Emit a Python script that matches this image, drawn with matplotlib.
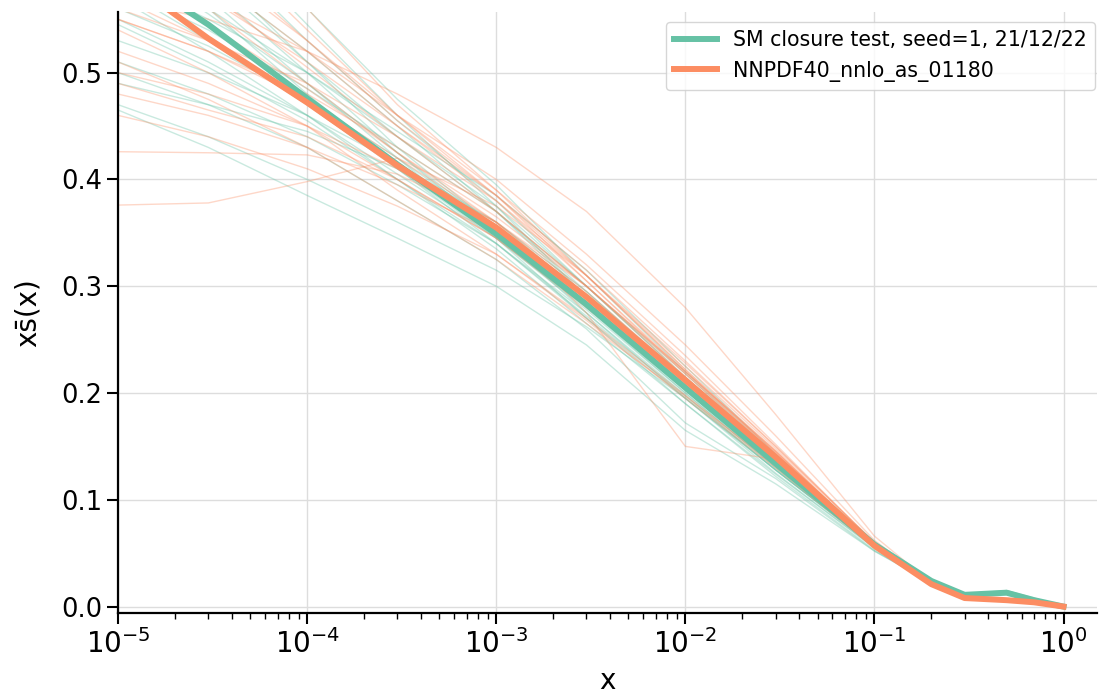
import matplotlib
matplotlib.use("Agg")
import matplotlib.pyplot as plt

x_nodes = [1e-5, 3e-5, 1e-4, 3e-4, 1e-3, 3e-3, 1e-2, 3e-2, 0.1, 0.2, 0.3, 0.5, 0.7, 1.0]

# central values
ct_central = [0.600, 0.545, 0.476, 0.414, 0.349, 0.283, 0.205, 0.134, 0.058, 0.024, 0.011, 0.013, 0.006, 0.0]
nnpdf_central = [0.593, 0.532, 0.472, 0.413, 0.355, 0.290, 0.212, 0.140, 0.057, 0.021, 0.008, 0.006, 0.004, 0.0]

# replicas, closure test fit
ct_replicas = [
    [0.66, 0.59, 0.51, 0.44, 0.37, 0.295, 0.212, 0.136, 0.057, 0.023, 0.011, 0.013, 0.006, 0.0],
    [0.55, 0.51, 0.46, 0.405, 0.345, 0.28, 0.204, 0.133, 0.058, 0.025, 0.012, 0.012, 0.006, 0.0],
    [0.47, 0.44, 0.40, 0.36, 0.315, 0.262, 0.195, 0.128, 0.056, 0.024, 0.012, 0.014, 0.007, 0.0],
    [0.465, 0.43, 0.385, 0.345, 0.30, 0.245, 0.165, 0.115, 0.052, 0.023, 0.011, 0.013, 0.006, 0.0],
    [0.70, 0.62, 0.53, 0.455, 0.38, 0.30, 0.215, 0.14, 0.06, 0.025, 0.012, 0.013, 0.006, 0.0],
    [0.58, 0.54, 0.485, 0.43, 0.37, 0.30, 0.218, 0.14, 0.059, 0.024, 0.011, 0.012, 0.006, 0.0],
    [0.62, 0.56, 0.48, 0.41, 0.34, 0.27, 0.195, 0.128, 0.057, 0.024, 0.012, 0.014, 0.007, 0.0],
    [0.53, 0.50, 0.46, 0.415, 0.36, 0.295, 0.213, 0.137, 0.058, 0.024, 0.011, 0.012, 0.006, 0.0],
    [0.64, 0.58, 0.50, 0.425, 0.35, 0.275, 0.195, 0.125, 0.055, 0.023, 0.010, 0.012, 0.006, 0.0],
    [0.51, 0.48, 0.44, 0.395, 0.34, 0.275, 0.198, 0.128, 0.056, 0.024, 0.012, 0.013, 0.006, 0.0],
    [0.75, 0.66, 0.56, 0.475, 0.395, 0.31, 0.22, 0.142, 0.061, 0.025, 0.012, 0.013, 0.006, 0.0],
    [0.59, 0.55, 0.50, 0.445, 0.385, 0.315, 0.225, 0.143, 0.06, 0.025, 0.012, 0.013, 0.007, 0.0],
    [0.57, 0.52, 0.46, 0.40, 0.335, 0.265, 0.19, 0.124, 0.055, 0.023, 0.011, 0.013, 0.006, 0.0],
    [0.61, 0.555, 0.49, 0.425, 0.355, 0.285, 0.205, 0.132, 0.057, 0.024, 0.011, 0.015, 0.007, 0.0],
    [0.56, 0.525, 0.475, 0.42, 0.355, 0.285, 0.207, 0.135, 0.059, 0.025, 0.012, 0.012, 0.006, 0.0],
    [0.68, 0.60, 0.51, 0.43, 0.355, 0.28, 0.20, 0.13, 0.056, 0.023, 0.011, 0.014, 0.007, 0.0],
    [0.49, 0.47, 0.445, 0.41, 0.36, 0.29, 0.208, 0.134, 0.058, 0.024, 0.012, 0.013, 0.006, 0.0],
    [0.63, 0.57, 0.49, 0.42, 0.345, 0.27, 0.19, 0.122, 0.053, 0.022, 0.011, 0.014, 0.007, 0.0],
    [0.60, 0.56, 0.50, 0.44, 0.375, 0.30, 0.214, 0.138, 0.059, 0.025, 0.012, 0.012, 0.006, 0.0],
    [0.545, 0.505, 0.455, 0.40, 0.34, 0.272, 0.197, 0.128, 0.056, 0.024, 0.011, 0.013, 0.006, 0.0],
    [0.72, 0.64, 0.545, 0.46, 0.375, 0.29, 0.205, 0.132, 0.057, 0.024, 0.011, 0.013, 0.006, 0.0],
    [0.58, 0.53, 0.47, 0.41, 0.345, 0.278, 0.20, 0.13, 0.057, 0.024, 0.012, 0.015, 0.008, 0.0],
    [0.50, 0.47, 0.43, 0.38, 0.325, 0.26, 0.172, 0.12, 0.052, 0.022, 0.010, 0.012, 0.006, 0.0],
    [0.65, 0.59, 0.52, 0.45, 0.37, 0.29, 0.205, 0.132, 0.057, 0.024, 0.011, 0.013, 0.006, 0.0],
]

# replicas, NNPDF4.0
nnpdf_replicas = [
    [0.376, 0.378, 0.398, 0.42, 0.375, 0.31, 0.222, 0.143, 0.057, 0.021, 0.008, 0.006, 0.004, 0.0],
    [0.426, 0.425, 0.423, 0.405, 0.36, 0.295, 0.214, 0.14, 0.057, 0.021, 0.008, 0.006, 0.004, 0.0],
    [0.46, 0.44, 0.41, 0.375, 0.33, 0.27, 0.198, 0.132, 0.056, 0.021, 0.008, 0.006, 0.004, 0.0],
    [0.50, 0.48, 0.45, 0.41, 0.36, 0.30, 0.22, 0.146, 0.058, 0.022, 0.009, 0.006, 0.004, 0.0],
    [0.55, 0.52, 0.48, 0.43, 0.37, 0.30, 0.215, 0.14, 0.056, 0.020, 0.008, 0.005, 0.003, 0.0],
    [0.62, 0.56, 0.49, 0.425, 0.36, 0.29, 0.21, 0.138, 0.057, 0.021, 0.008, 0.006, 0.004, 0.0],
    [0.68, 0.61, 0.53, 0.455, 0.385, 0.31, 0.225, 0.148, 0.06, 0.022, 0.009, 0.007, 0.004, 0.0],
    [0.57, 0.55, 0.52, 0.48, 0.43, 0.37, 0.28, 0.18, 0.066, 0.022, 0.009, 0.006, 0.004, 0.0],
    [0.60, 0.57, 0.52, 0.46, 0.40, 0.33, 0.245, 0.16, 0.062, 0.022, 0.009, 0.006, 0.004, 0.0],
    [0.55, 0.52, 0.475, 0.42, 0.36, 0.275, 0.15, 0.138, 0.056, 0.021, 0.008, 0.006, 0.004, 0.0],
    [0.65, 0.59, 0.52, 0.45, 0.38, 0.305, 0.22, 0.145, 0.058, 0.021, 0.008, 0.006, 0.004, 0.0],
    [0.52, 0.49, 0.45, 0.40, 0.345, 0.283, 0.207, 0.137, 0.056, 0.020, 0.008, 0.006, 0.004, 0.0],
    [0.70, 0.63, 0.54, 0.46, 0.385, 0.305, 0.218, 0.142, 0.057, 0.021, 0.008, 0.005, 0.003, 0.0],
    [0.57, 0.53, 0.47, 0.41, 0.35, 0.285, 0.21, 0.14, 0.058, 0.022, 0.009, 0.007, 0.004, 0.0],
    [0.48, 0.46, 0.43, 0.395, 0.35, 0.29, 0.215, 0.143, 0.058, 0.021, 0.008, 0.006, 0.004, 0.0],
    [0.61, 0.57, 0.51, 0.45, 0.385, 0.315, 0.23, 0.15, 0.06, 0.022, 0.009, 0.006, 0.004, 0.0],
    [0.54, 0.50, 0.45, 0.39, 0.33, 0.268, 0.195, 0.13, 0.055, 0.020, 0.008, 0.006, 0.004, 0.0],
    [0.66, 0.60, 0.53, 0.46, 0.39, 0.32, 0.235, 0.152, 0.059, 0.022, 0.009, 0.006, 0.004, 0.0],
    [0.59, 0.545, 0.485, 0.425, 0.365, 0.30, 0.22, 0.145, 0.058, 0.021, 0.008, 0.006, 0.004, 0.0],
    [0.51, 0.475, 0.43, 0.38, 0.325, 0.265, 0.197, 0.132, 0.055, 0.020, 0.008, 0.006, 0.004, 0.0],
    [0.74, 0.66, 0.56, 0.47, 0.39, 0.31, 0.222, 0.146, 0.058, 0.021, 0.008, 0.006, 0.004, 0.0],
    [0.56, 0.53, 0.49, 0.44, 0.38, 0.31, 0.228, 0.15, 0.06, 0.022, 0.009, 0.006, 0.004, 0.0],
    [0.63, 0.575, 0.505, 0.44, 0.37, 0.30, 0.218, 0.144, 0.058, 0.021, 0.008, 0.006, 0.004, 0.0],
    [0.49, 0.465, 0.44, 0.40, 0.345, 0.28, 0.205, 0.136, 0.056, 0.021, 0.008, 0.006, 0.004, 0.0],
]

labels = ["SM closure test, seed=1, 21/12/22", "NNPDF40_nnlo_as_01180"]
green = "#66c2a5"
orange = "#fc8d62"

fig = plt.figure(figsize=(10.99, 6.95), dpi=100)
ax = fig.add_axes([0.1075, 0.118, 0.8905, 0.865])

for rep in ct_replicas:
    ax.plot(x_nodes, rep, color=green, lw=1, alpha=0.35)
for rep in nnpdf_replicas:
    ax.plot(x_nodes, rep, color=orange, lw=1, alpha=0.35)

ax.plot(x_nodes, ct_central, color=green, lw=4.3, label=labels[0])
ax.plot(x_nodes, nnpdf_central, color=orange, lw=4.3, label=labels[1])

ax.set_xscale("log")
ax.set_xlim(1e-5, 1.5)
ax.set_ylim(-0.006, 0.557)
ax.set_yticks([0.0, 0.1, 0.2, 0.3, 0.4, 0.5])

ax.grid(True, which="major", color="#dddddd", lw=1)
ax.set_axisbelow(True)
ax.spines["top"].set_visible(False)
ax.spines["right"].set_visible(False)
ax.spines["left"].set_linewidth(1.6)
ax.spines["bottom"].set_linewidth(1.6)
ax.tick_params(axis="both", which="major", length=8, width=1.5)
ax.tick_params(axis="y", labelsize=18.5)
ax.tick_params(axis="x", labelsize=20)
ax.tick_params(axis="x", which="minor", length=4, width=1)

ax.set_xlabel("x", fontsize=20, labelpad=6)
ax.set_ylabel("xs\u0304(x)", fontsize=20, labelpad=14)

leg = ax.legend(loc="upper right", bbox_to_anchor=(1.009, 1.0), fontsize=14.8,
                frameon=True, handlelength=2.1)
leg.get_frame().set_edgecolor("#cccccc")

fig.savefig("out.png", dpi=100)
